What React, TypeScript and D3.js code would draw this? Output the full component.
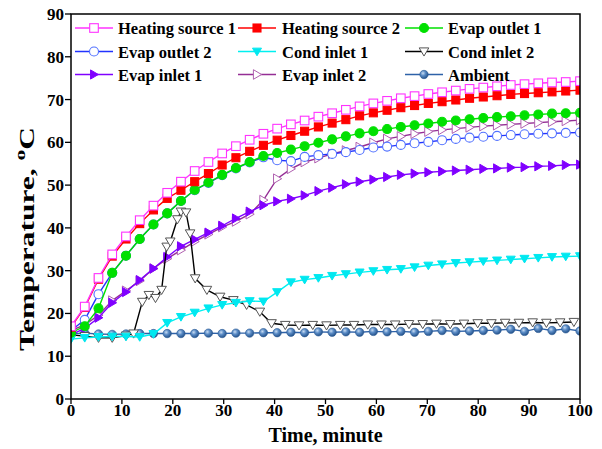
import React from 'react';
import * as d3 from 'd3';

const TIMES = [0, 2.7, 5.4, 8.1, 10.8, 13.5, 16.2, 18.9, 21.6, 24.3, 27, 29.7, 32.4, 35.1, 37.8, 40.5, 43.2, 45.9, 48.6, 51.3, 54, 56.7, 59.4, 62.1, 64.8, 67.5, 70.2, 72.9, 75.6, 78.3, 81, 83.7, 86.4, 89.1, 91.8, 94.5, 97.2, 100];

const HEATING_SOURCE_1 = [17, 21.6, 28.3, 33.8, 38, 41.8, 45.2, 48.2, 50.8, 53.3, 55.4, 57.4, 59.1, 60.6, 62, 63.2, 64.2, 65.1, 66, 66.8, 67.6, 68.4, 69.1, 69.7, 70.3, 70.8, 71.3, 71.7, 72.1, 72.5, 72.8, 73.1, 73.4, 73.6, 73.8, 74, 74.1, 74.3];
const HEATING_SOURCE_2 = [16.8, 21.4, 28, 33.4, 37.4, 41, 44.2, 46.9, 48.8, 50.8, 52.7, 54.7, 56.4, 57.9, 59.3, 60.5, 61.6, 62.6, 63.6, 64.5, 65.3, 66.2, 66.9, 67.5, 68.1, 68.6, 69.1, 69.5, 69.9, 70.3, 70.6, 70.9, 71.2, 71.4, 71.6, 71.8, 72, 72.2];
const EVAP_OUTLET_1 = [15.5, 17, 21.2, 29.5, 33.5, 37.4, 40.8, 43.4, 46.3, 48.9, 50.6, 52.4, 54, 55.4, 56.8, 57.5, 58.3, 59.1, 59.9, 60.7, 61.4, 62.1, 62.6, 63.1, 63.6, 64, 64.4, 64.8, 65.1, 65.4, 65.7, 65.9, 66.1, 66.3, 66.5, 66.7, 66.8, 66.9];
const EVAP_OUTLET_2 = [16, 18.5, 24.5, 29.5, 33.5, 37.4, 40.8, 43.4, 46.3, 48.8, 50.5, 52.3, 53.9, 55.3, 56.5, 55.8, 55.6, 56.6, 57, 57.3, 57.7, 58.2, 58.8, 59, 59.4, 59.8, 60.1, 60.5, 60.8, 61.1, 61.3, 61.5, 61.7, 61.9, 62, 62.1, 62.2, 62.3];
const COND_INLET_1 = [14, 14.3, 14.5, 14.6, 14.6, 14.5, 15.2, 17.8, 19.2, 20.2, 21.2, 22, 22.5, 22.9, 22.8, 25, 27.3, 27.9, 28.3, 28.8, 29.2, 29.6, 29.9, 30.2, 30.4, 30.8, 31.2, 31.5, 31.8, 32, 32.2, 32.4, 32.6, 32.8, 33, 33.2, 33.3, 33.4];
const COND_INLET_2_TIMES = [0, 2.7, 5.4, 8.1, 10.8, 12.3, 14, 15.3, 16.6, 17.8, 18.8, 19.5, 20.9, 21.6, 22.6, 23.4, 24.4, 26.7, 29.3, 31.9, 34.5, 37.1, 39.4, 42.1, 44.8, 47.5, 50.2, 52.9, 55.6, 58.3, 61, 63.7, 66.4, 69.1, 71.8, 74.5, 77.2, 79.9, 82.6, 85.3, 88, 90.7, 93.4, 96.1, 98.8];
const COND_INLET_2 = [15, 14.7, 14.3, 14.3, 14.8, 15.3, 22.7, 24.3, 23.6, 25.5, 35.6, 36.8, 42, 43.8, 43.6, 38.7, 28.2, 25.5, 23.9, 23.1, 22, 20.4, 17.7, 17.3, 17.2, 17.3, 17.2, 17.3, 17.3, 17.4, 17.4, 17.4, 17.5, 17.5, 17.6, 17.5, 17.6, 17.7, 17.7, 17.8, 17.8, 17.9, 17.8, 17.9, 18];
const EVAP_INLET_1 = [15, 16.5, 19, 22.5, 25, 27.8, 30.5, 33.2, 35.7, 37.3, 38.9, 40.5, 42.2, 43.8, 45.3, 46.2, 46.8, 47.6, 48.6, 49.4, 50.2, 50.8, 51.3, 51.9, 52.4, 52.7, 53, 53.2, 53.4, 53.6, 53.8, 53.9, 54.1, 54.2, 54.4, 54.5, 54.7, 54.8];
const EVAP_INLET_2 = [16, 17.3, 19.6, 23, 25.3, 27.6, 30.5, 32.8, 34.8, 36.8, 38.5, 40.2, 41.5, 43.2, 46.5, 51.5, 53.8, 55.4, 56.3, 57.3, 58.1, 58.9, 59.9, 60.8, 61.4, 62, 62.5, 62.9, 63.2, 63.5, 63.8, 64, 64.2, 64.4, 64.6, 64.8, 65, 65.2];
const AMBIENT = [15.2, 15.4, 15.2, 15.1, 15.2, 15.3, 15.3, 15.3, 15.3, 15.3, 15.4, 15.3, 15.4, 15.4, 15.5, 15.5, 15.6, 15.5, 15.7, 15.6, 15.7, 15.6, 15.8, 15.7, 15.8, 15.6, 15.8, 16, 15.8, 15.9, 16, 16.1, 16.3, 15.8, 16.5, 16, 16.4, 15.9];

const X_TICKS = [0, 10, 20, 30, 40, 50, 60, 70, 80, 90, 100];
const Y_TICKS = [0, 10, 20, 30, 40, 50, 60, 70, 80, 90];

type Marker = 'square' | 'circle' | 'down' | 'right' | 'ball';

interface Series {
  name: string;
  times: number[];
  values: number[];
  line: string;
  marker: Marker;
  fill: string;
  stroke: string;
  size: number;
}

const SERIES: Series[] = [
  { name: 'Heating source 1', times: TIMES, values: HEATING_SOURCE_1, line: '#FF33FF', marker: 'square', fill: '#ffffff', stroke: '#FF33FF', size: 4.3 },
  { name: 'Heating source 2', times: TIMES, values: HEATING_SOURCE_2, line: '#FF0000', marker: 'square', fill: '#FF0000', stroke: '#FF0000', size: 4 },
  { name: 'Evap outlet 1', times: TIMES, values: EVAP_OUTLET_1, line: '#00E000', marker: 'circle', fill: '#00E000', stroke: '#00E000', size: 4.5 },
  { name: 'Evap outlet 2', times: TIMES, values: EVAP_OUTLET_2, line: '#2233FF', marker: 'circle', fill: '#ffffff', stroke: '#5070FF', size: 4.5 },
  { name: 'Cond inlet 1', times: TIMES, values: COND_INLET_1, line: '#00F0F0', marker: 'down', fill: '#00E8F0', stroke: '#00E8F0', size: 4.5 },
  { name: 'Cond inlet 2', times: COND_INLET_2_TIMES, values: COND_INLET_2, line: '#000000', marker: 'down', fill: '#ffffff', stroke: '#555555', size: 4.8 },
  { name: 'Evap inlet 1', times: TIMES, values: EVAP_INLET_1, line: '#8000FF', marker: 'right', fill: '#8000FF', stroke: '#8000FF', size: 4.6 },
  { name: 'Evap inlet 2', times: TIMES, values: EVAP_INLET_2, line: '#952E95', marker: 'right', fill: '#ffffff', stroke: '#B060B0', size: 4.8 },
  { name: 'Ambient', times: TIMES, values: AMBIENT, line: '#2E62A8', marker: 'ball', fill: 'url(#ambGrad)', stroke: '#2A5A95', size: 4.2 },
];

const W = 602;
const H = 449;
const M = { left: 71, right: 580, top: 14, bottom: 399 };
const FONT = '"Liberation Serif", "Times New Roman", serif';

function MarkerShape({ type, x, y, s, fill, stroke }: { type: Marker; x: number; y: number; s: number; fill: string; stroke: string }) {
  if (type === 'square') {
    return <rect x={x - s} y={y - s} width={2 * s} height={2 * s} fill={fill} stroke={stroke} strokeWidth={1.1} />;
  }
  if (type === 'circle' || type === 'ball') {
    return <circle cx={x} cy={y} r={s} fill={fill} stroke={stroke} strokeWidth={type === 'ball' ? 0.6 : 1.1} />;
  }
  if (type === 'down') {
    const p = `M${x - s},${y - s * 0.75}L${x + s},${y - s * 0.75}L${x},${y + s * 0.95}Z`;
    return <path d={p} fill={fill} stroke={stroke} strokeWidth={1} />;
  }
  const p = `M${x - s * 0.75},${y - s}L${x - s * 0.75},${y + s}L${x + s * 0.95},${y}Z`;
  return <path d={p} fill={fill} stroke={stroke} strokeWidth={1} />;
}

export default function App() {
  const x = d3.scaleLinear().domain([0, 100]).range([M.left, M.right]);
  const y = d3.scaleLinear().domain([0, 90]).range([M.bottom, M.top]);

  const legendCols = [
    { lx: 75, tx: 118 },
    { lx: 238, tx: 282 },
    { lx: 405, tx: 448 },
  ];
  const legendRows = [28, 51.5, 74.5];
  const drawOrder = SERIES.slice().reverse();

  return (
    <svg width={W} height={H} style={{ position: 'absolute', left: 0, top: 0, background: '#fff' }} fontFamily={FONT}>
      <defs>
        <radialGradient id="ambGrad" cx="38%" cy="35%" r="65%">
          <stop offset="0%" stopColor="#c8dcf2" />
          <stop offset="45%" stopColor="#5b8cc6" />
          <stop offset="100%" stopColor="#25538c" />
        </radialGradient>
        <clipPath id="plotClip">
          <rect x={M.left} y={M.top} width={M.right - M.left} height={M.bottom - M.top} />
        </clipPath>
      </defs>

      <g clipPath="url(#plotClip)">
        {drawOrder.map((s) => {
          const pts = s.times.map((t, i) => [x(t), y(s.values[i])] as [number, number]);
          const path = d3.line()(pts) || '';
          return (
            <g key={s.name}>
              <path d={path} fill="none" stroke={s.line} strokeWidth={1.4} />
              {pts.map((p, i) => (
                <MarkerShape key={i} type={s.marker} x={p[0]} y={p[1]} s={s.size} fill={s.fill} stroke={s.stroke} />
              ))}
            </g>
          );
        })}
      </g>

      {/* frame */}
      <rect x={M.left} y={M.top} width={M.right - M.left} height={M.bottom - M.top} fill="none" stroke="#000" strokeWidth={1.5} />

      {/* x axis ticks */}
      {X_TICKS.map((t) => (
        <g key={'x' + t}>
          <line x1={x(t)} x2={x(t)} y1={M.bottom} y2={M.bottom + 5} stroke="#000" strokeWidth={1.3} />
          <text x={x(t)} y={M.bottom + 17} textAnchor="middle" fontSize={17} fontWeight="bold">{t}</text>
        </g>
      ))}
      {/* y axis ticks */}
      {Y_TICKS.map((t) => (
        <g key={'y' + t}>
          <line x1={M.left - 6} x2={M.left} y1={y(t)} y2={y(t)} stroke="#000" strokeWidth={1.3} />
          <text x={M.left - 7} y={y(t) + 6} textAnchor="end" fontSize={17} fontWeight="bold">{t}</text>
        </g>
      ))}

      <text x={(M.left + M.right) / 2} y={442} textAnchor="middle" fontSize={20} fontWeight="bold">Time, minute</text>
      <text transform="translate(34,239) rotate(-90)" textAnchor="middle" fontSize={22} fontWeight="bold" textLength={224} lengthAdjust="spacingAndGlyphs">
        Temperature, <tspan fontSize={15} dy={-9}>o</tspan><tspan dy={9}>C</tspan>
      </text>

      {/* legend */}
      {SERIES.map((s, i) => {
        const col = legendCols[i % 3];
        const ry = legendRows[Math.floor(i / 3)];
        return (
          <g key={'lg' + s.name}>
            <line x1={col.lx} x2={col.lx + 38} y1={ry} y2={ry} stroke={s.line} strokeWidth={1.5} />
            <MarkerShape type={s.marker} x={col.lx + 19} y={ry} s={s.size} fill={s.fill} stroke={s.stroke} />
            <text x={col.tx} y={ry + 6} fontSize={16.5} fontWeight="bold">{s.name}</text>
          </g>
        );
      })}
    </svg>
  );
}
